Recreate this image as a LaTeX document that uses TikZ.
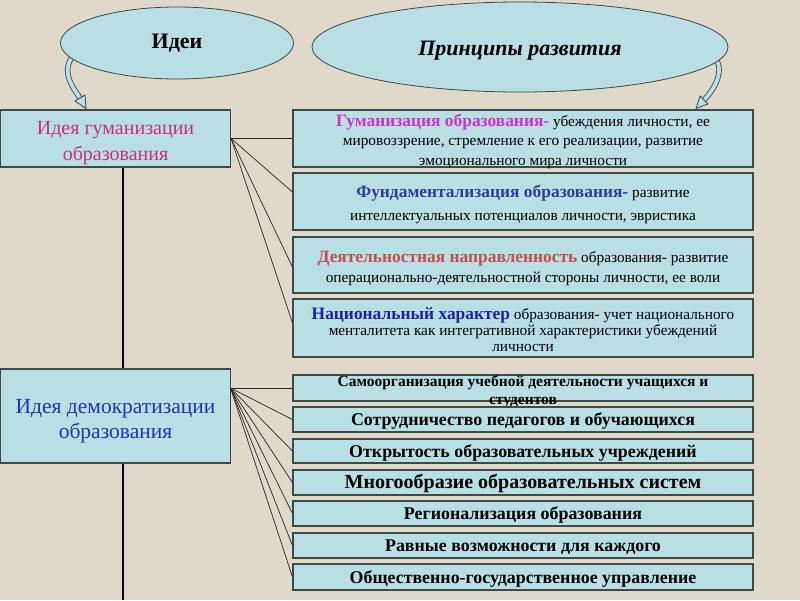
\documentclass[tikz,border=0pt]{standalone}
\usepackage{fontspec}
\setmainfont{Liberation Serif}
\usetikzlibrary{shapes.geometric}
\definecolor{bg}{HTML}{E0D8CB}
\definecolor{boxfill}{HTML}{B9DEE4}
\definecolor{boxedge}{HTML}{3C4A48}
\definecolor{magentaA}{HTML}{CC33CC}
\definecolor{pinkA}{HTML}{C8307A}
\definecolor{navyA}{HTML}{2E3E96}
\definecolor{redA}{HTML}{C0504D}
\definecolor{blueA}{HTML}{1A22A8}
\definecolor{blueB}{HTML}{2233B0}
\tikzset{
  ell/.style={ellipse, draw=boxedge, fill=boxfill, line width=0.8pt, inner sep=0pt},
  bx/.style={rectangle, draw=boxedge, fill=boxfill, line width=1.1pt, inner sep=0pt, align=center},
  txt/.style={inner sep=0pt, align=center},
  rtext/.style={txt, font=\fontsize{15.3}{20}\selectfont},
  ltext/.style={font=\fontsize{17.9}{20}\selectfont\bfseries, text height=16pt, text depth=4pt},
  conn/.style={draw=black!85, line width=0.7pt},
  spine/.style={draw=black, line width=1.7pt},
  arrowedge/.style={draw=boxedge, line width=5.5pt},
  arrowfill/.style={draw=boxfill, line width=3.8pt}
}
\newcommand{\hd}[2]{{\fontsize{17.4}{20}\selectfont\bfseries\color{#1}#2}}
\begin{document}
\begin{tikzpicture}[x=1pt,y=-1pt]
\fill[bg] (0,0) rectangle (800,600);
\useasboundingbox (0,0) rectangle (800,600);

% left idea boxes
\node[bx, minimum width=230pt, minimum height=57pt] (g1) at (115.5,138.5) {};
\node[txt, font=\fontsize{20}{26}\selectfont, text=pinkA] (g1t) at (115.5,143) {Идея гуманизации\\образования};
\node[bx, minimum width=230pt, minimum height=94pt] (d1) at (115.5,416) {};
\node[txt, font=\fontsize{21.5}{25}\selectfont, text=blueB] (d1t) at (115.5,421.5) {Идея демократизации\\образования};

% right principle boxes
\node[bx, minimum width=460pt, minimum height=57pt] (r1) at (523,138.5) {};
\node[rtext, font=\fontsize{15.3}{19.5}\selectfont] (r1t) at (523,141)
  {\hd{magentaA}{Гуманизация образования-} убеждения личности, ее\\мировоззрение, стремление к его реализации, развитие\\эмоционального мира личности};
\node[bx, minimum width=460pt, minimum height=57pt] (r2) at (523,201.5) {};
\node[rtext, font=\fontsize{15.3}{23}\selectfont] (r2t) at (523,204.5)
  {\hd{navyA}{Фундаментализация образования-} развитие\\интеллектуальных потенциалов личности, эвристика};
\node[bx, minimum width=460pt, minimum height=56pt] (r3) at (523,265) {};
\node[rtext] (r3t) at (523,268.5)
  {\hd{redA}{Деятельностная направленность} образования- развитие\\операционально-деятельностной стороны личности, ее воли};
\node[bx, minimum width=460pt, minimum height=58pt] (r4) at (523,328) {};
\node[rtext, font=\fontsize{15.3}{16}\selectfont] (r4t) at (523,329.5)
  {\hd{blueA}{Национальный характер} образования- учет национального\\менталитета как интегративной характеристики убеждений\\личности};

% lower boxes
\node[bx, minimum width=460pt, minimum height=26pt] (l1) at (523,388) {};
\node[txt, font=\fontsize{15.5}{18}\selectfont\bfseries] (l1t) at (523,392) {Самоорганизация учебной деятельности учащихся и\\студентов};
\node[bx, ltext, minimum width=460pt, minimum height=25pt] (l2) at (523,419.5) {Сотрудничество педагогов и обучающихся};
\node[bx, ltext, minimum width=460pt, minimum height=24pt] (l3) at (523,451) {Открытость образовательных учреждений};
\node[bx, ltext, minimum width=460pt, minimum height=25pt, font=\fontsize{20}{20}\selectfont\bfseries] (l4) at (523,482.5) {Многообразие образовательных систем};
\node[bx, ltext, minimum width=460pt, minimum height=25pt] (l5) at (523,513.5) {Регионализация образования};
\node[bx, ltext, minimum width=460pt, minimum height=25pt] (l6) at (523,545.5) {Равные возможности для каждого};
\node[bx, ltext, minimum width=460pt, minimum height=26pt] (l7) at (523,577) {Общественно-государственное управление};

% vertical spine
\coordinate (vbot) at (123,600);
\draw[spine] (g1.south -| vbot) -- (d1.north -| vbot);
\draw[spine] (d1.south -| vbot) -- (vbot);

% connectors
\draw[conn] (g1.east) -- (r1.west);
\draw[conn] (g1.east) -- (r2.west |- 0,192);
\draw[conn] (g1.east) -- (r3.west |- 0,267);
\draw[conn] (g1.east) -- (r4.west |- 0,323);
\coordinate (dsrc) at (230.5,388);
\foreach \t in {l1,l2,l3,l4,l5,l6,l7} \draw[conn] (dsrc) -- (\t.west);

% curved block arrows
\draw[arrowedge] (73,56) .. controls (60,72) and (74,89) .. (80,98);
\draw[arrowfill] (73,56) .. controls (60,72) and (74,89) .. (80,98);
\filldraw[fill=boxfill, draw=boxedge, line width=0.8pt] (85,95) -- (86,108.5) -- (75,101) -- cycle;
\draw[arrowedge] (715,58) .. controls (726,72) and (712,92) .. (704,100);
\draw[arrowfill] (715,58) .. controls (726,72) and (712,92) .. (704,100);
\filldraw[fill=boxfill, draw=boxedge, line width=0.8pt] (708,104) -- (696,108.5) -- (700,96) -- cycle;

% ellipses
\node[ell, minimum width=233pt, minimum height=72pt, font=\fontsize{22}{24}\selectfont\bfseries] (e1) at (177,43) {Идеи};
\node[ell, minimum width=416pt, minimum height=90pt, font=\fontsize{22}{24}\selectfont\bfseries\itshape, text height=20pt, text depth=3.2pt] (e2) at (520,47) {Принципы развития};
\end{tikzpicture}
\end{document}
